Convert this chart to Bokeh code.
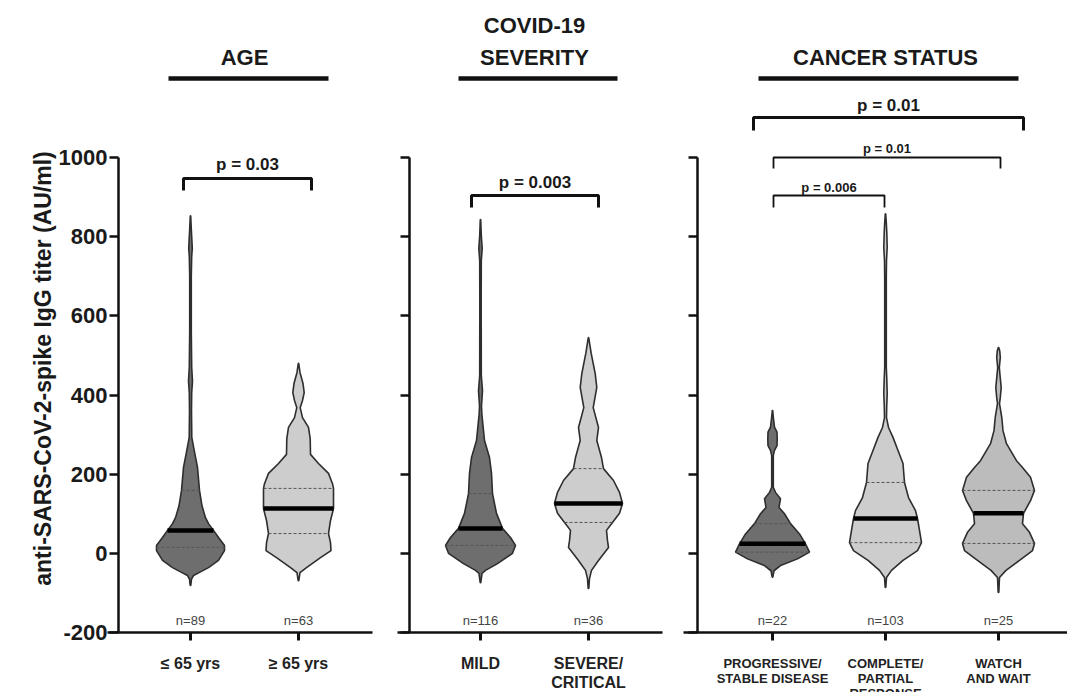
import numpy as np
from bokeh.plotting import figure
from bokeh.layouts import row
from bokeh.models import FixedTicker, LinearAxis, Range1d
from bokeh.core.properties import value
from bokeh.embed import file_html
from bokeh.resources import INLINE

# ---------------- data ----------------
Y_LABEL = "anti-SARS-CoV-2-spike IgG titer (AU/ml)"
Y_TICKS = [-200, 0, 200, 400, 600, 800, 1000]

AGE_TITLE = "AGE"
AGE_CATS = ["≤ 65 yrs", "≥ 65 yrs"]
AGE_N = [89, 63]
AGE_MEDIAN = [58, 113]
AGE_Q1 = [15, 50]
AGE_Q3 = [159, 164]
AGE_P = ["p = 0.03"]

SEV_TITLE = "COVID-19\nSEVERITY"
SEV_CATS = ["MILD", "SEVERE/\nCRITICAL"]
SEV_N = [116, 36]
SEV_MEDIAN = [63, 126]
SEV_Q1 = [20, 78]
SEV_Q3 = [151, 214]
SEV_P = ["p = 0.003"]

CAN_TITLE = "CANCER STATUS"
CAN_CATS = ["PROGRESSIVE/\nSTABLE DISEASE", "COMPLETE/\nPARTIAL\nRESPONSE", "WATCH\nAND WAIT"]
CAN_N = [22, 103, 25]
CAN_MEDIAN = [24, 88, 101]
CAN_Q1 = [3, 27, 25]
CAN_Q3 = [75, 179, 159]
CAN_P = ["p = 0.01", "p = 0.01", "p = 0.006"]

# violin outlines: titer level and relative half-width (density) at that level
LE65_Y = [853, 820, 790, 770, 750, 700, 560, 470, 435, 405, 360, 293, 260, 217, 159, 120, 90, 75, 58, 40, 20, 7, -18, -36, -48, -56, -65, -81]
LE65_W = [0.2, 0.8, 1.4, 1.8, 1.2, 0.8, 0.8, 1.2, 2.0, 1.2, 1.0, 1.3, 3.7, 7, 9, 11.5, 15, 18, 23, 28, 34, 34, 28, 18, 9, 3, 1, 0.3]
GE65_Y = [480, 457, 429, 406, 386, 368, 343, 318, 290, 250, 227, 202, 176, 164, 113, 83, 50, 27, 7, -11, -36, -49, -69]
GE65_W = [0.2, 1.5, 4.5, 5.7, 4, 1.7, 4, 10, 11.7, 12, 20, 30, 34, 35, 35, 32, 30, 32, 32.5, 22, 8, 1.5, 0.3]
MILD_Y = [843, 803, 770, 740, 639, 449, 411, 373, 353, 285, 242, 202, 151, 101, 63, 40, 20, 0, -26, -43, -51, -74]
MILD_W = [0.2, 0.8, 1.7, 0.8, 0.7, 0.8, 2, 1, 1.3, 4, 9, 11, 12, 16, 22, 30, 35, 32, 17, 5, 1.5, 0.3]
SEVERE_Y = [545, 505, 454, 419, 368, 318, 285, 242, 214, 184, 154, 126, 101, 78, 58, 32, 15, -18, -43, -64, -89]
SEVERE_W = [0.2, 2.7, 6.7, 8.3, 4.7, 10, 8.3, 13, 15, 25, 31, 34, 31, 24, 18, 19, 20, 10, 3, 1, 0.3]
PROG_Y = [361, 344, 319, 306, 289, 272, 260, 247, 167, 154, 138, 116, 100, 75, 49, 24, 3, -14, -31, -44, -60]
PROG_W = [0.2, 0.8, 2, 4.5, 4.7, 4.5, 2, 0.8, 0.8, 3, 8, 6.5, 12, 18, 27, 33, 37, 25, 8, 1.5, 0.3]
COMPLETE_Y = [858, 835, 810, 773, 740, 700, 600, 470, 440, 404, 370, 343, 318, 293, 260, 227, 179, 141, 108, 88, 58, 27, 7, -18, -43, -61, -86]
COMPLETE_W = [0.2, 0.8, 1.3, 1.7, 1.0, 0.8, 0.8, 0.8, 1.3, 1.7, 1.2, 1.0, 3, 7.5, 12.5, 17.5, 19, 23, 30, 32, 34, 36, 32, 17.5, 6, 1, 0.3]
WATCH_Y = [520, 512, 495, 469, 437, 419, 394, 378, 343, 310, 277, 234, 217, 192, 159, 133, 101, 75, 53, 25, 7, -18, -43, -61, -99]
WATCH_W = [0.2, 1.2, 1.8, 0.8, 2, 2.7, 1.8, 1.0, 3.3, 4.5, 8, 18, 24, 32, 36, 32, 25, 24, 31, 36, 34, 21, 7.5, 1, 0.3]

# ---------------- layout / style ----------------
FONT = "Liberation Sans"
H = 692
Y_MIN, Y_MAX = -200, 1000
YMIN_PX = 632               # pixel row of y = -200
Y1000_PX = 157              # pixel row of y = 1000
PPU_Y = (YMIN_PX - Y1000_PX) / (Y_MAX - Y_MIN)


def ypx(py):
    return Y_MAX - (py - Y1000_PX) / PPU_Y


DARK, LIGHT, MID = "#6e6e6e", "#cdcdcd", "#bcbcbc"


def make_panel(fig_left, width, unit, c1, yaxis_px, xax0_px, xax1_px, cats, label_size, label_lh,
               label_standoff, show_ylabels):
    x_start = 1 + (fig_left - c1) / unit
    x_end = x_start + width / unit
    p = figure(width=width, height=H, x_range=Range1d(x_start, x_end), y_range=Range1d(ypx(H), ypx(0)),
               x_axis_type=None, y_axis_type=None, output_backend="svg", toolbar_location=None,
               min_border_left=0, min_border_right=0, min_border_top=0, min_border_bottom=0)
    p.outline_line_color = None
    p.background_fill_color = "white"
    p.border_fill_color = "white"
    X = lambda px: 1 + (px - c1) / unit

    yax = LinearAxis(fixed_location=X(yaxis_px), bounds=(Y_MIN, Y_MAX), ticker=FixedTicker(ticks=Y_TICKS),
                     major_label_overrides={v: str(v) for v in Y_TICKS})
    yax.axis_line_width = 2.5
    yax.axis_line_color = "#111111"
    yax.major_tick_line_width = 2.5
    yax.major_tick_line_color = "#111111"
    yax.major_tick_out = 9
    yax.major_tick_in = 0
    yax.minor_tick_line_color = None
    yax.major_label_standoff = 2
    yax.major_label_text_font = FONT
    yax.major_label_text_font_style = "bold"
    yax.major_label_text_font_size = "22px"
    yax.major_label_text_color = "#1a1a1a" if show_ylabels else None
    p.add_layout(yax, "left")

    ticks = list(range(1, len(cats) + 1))
    xax = LinearAxis(fixed_location=Y_MIN, bounds=(X(xax0_px), min(X(xax1_px), x_end)),
                     ticker=FixedTicker(ticks=ticks),
                     major_label_overrides={t: c for t, c in zip(ticks, cats)})
    xax.axis_line_width = 2.5
    xax.axis_line_color = "#111111"
    xax.major_tick_line_width = 3
    xax.major_tick_line_color = "#111111"
    xax.major_tick_out = 8
    xax.major_tick_in = 0
    xax.minor_tick_line_color = None
    xax.major_label_standoff = label_standoff
    xax.major_label_text_font = FONT
    xax.major_label_text_font_style = "bold"
    xax.major_label_text_font_size = label_size
    xax.major_label_text_line_height = label_lh
    xax.major_label_text_color = "#222222"
    p.add_layout(xax, "below")
    return p, X


def draw_violin(p, c, ys, ws, unit, color, med, q1, q3):
    ys = np.asarray(ys, float)
    hw = np.asarray(ws, float) / unit
    xs = np.concatenate([c + hw, (c - hw)[::-1]])
    yy = np.concatenate([ys, ys[::-1]])
    p.patch(xs, yy, fill_color=color, line_color="#2e2e2e", line_width=1.6)
    order = np.argsort(ys)
    half = lambda y: float(np.interp(y, ys[order], hw[order]))
    for q in (q1, q3):
        h = half(q)
        p.segment([c - h], [q], [c + h], [q], line_color="#555555", line_width=1, line_dash="3 2")
    h = half(med)
    p.segment([c - h], [med], [c + h], [med], line_color="black", line_width=4.5)


def n_labels(p, n):
    p.text(x=list(range(1, len(n) + 1)), y=[ypx(620)] * len(n), text=[f"n={v}" for v in n],
           text_font=value(FONT), text_font_size="13px", text_color="#444444",
           text_align="center", text_baseline="middle")


def title(p, X, txt, x0_px, x1_px, xc, yc_px):
    p.text(x=[xc], y=[ypx(yc_px)], text=[txt], text_font=value(FONT), text_font_style="bold",
           text_font_size="22px", text_color="#1a1a1a", text_align="center", text_baseline="middle",
           text_line_height=1.3)
    p.segment([X(x0_px)], [ypx(78)], [X(x1_px)], [ypx(78)], line_color="#111111", line_width=4.5)


def bracket(p, X, x0_px, x1_px, y_px, drop_px, label, text_px, size, lw):
    y = ypx(y_px)
    y2 = ypx(y_px + drop_px)
    p.line([X(x0_px), X(x0_px), X(x1_px), X(x1_px)], [y2, y, y, y2], line_color="#111111", line_width=lw)
    p.text(x=[(X(x0_px) + X(x1_px)) / 2], y=[ypx(text_px)], text=[label], text_font=value(FONT),
           text_font_style="bold", text_font_size=size, text_color="#1a1a1a",
           text_align="center", text_baseline="middle")


# ---- panel 1: AGE ----
p1, X1 = make_panel(0, 385, 108, 190, 118, 107, 372, AGE_CATS, "16px", 1.15, 14, True)
p1.text(x=[X1(42)], y=[ypx(368)], text=[Y_LABEL], angle=np.pi / 2, text_font=value(FONT),
        text_font_style="bold", text_font_size="23px", text_color="#1a1a1a",
        text_align="center", text_baseline="middle")
for i, (ys, ws, col) in enumerate([(LE65_Y, LE65_W, DARK), (GE65_Y, GE65_W, LIGHT)]):
    draw_violin(p1, i + 1, ys, ws, 108, col, AGE_MEDIAN[i], AGE_Q1[i], AGE_Q3[i])
n_labels(p1, AGE_N)
title(p1, X1, AGE_TITLE, 168, 328, 1.5, 57)
bracket(p1, X1, 183, 311, 178, 12, AGE_P[0], 164, "17px", 3)

# ---- panel 2: COVID-19 SEVERITY ----
p2, X2 = make_panel(385, 285, 108, 480, 409, 397, 662, SEV_CATS, "16px", 1.15, 14, False)
for i, (ys, ws, col) in enumerate([(MILD_Y, MILD_W, DARK), (SEVERE_Y, SEVERE_W, LIGHT)]):
    draw_violin(p2, i + 1, ys, ws, 108, col, SEV_MEDIAN[i], SEV_Q1[i], SEV_Q3[i])
n_labels(p2, SEV_N)
title(p2, X2, SEV_TITLE, 458, 617, 1.5, 41)
bracket(p2, X2, 471, 598, 195, 12, SEV_P[0], 182, "17px", 3)

# ---- panel 3: CANCER STATUS ----
p3, X3 = make_panel(670, 397, 113, 772, 697, 683, 1067, CAN_CATS, "13px", 1.0, 15, False)
for i, (ys, ws, col) in enumerate([(PROG_Y, PROG_W, DARK), (COMPLETE_Y, COMPLETE_W, LIGHT), (WATCH_Y, WATCH_W, MID)]):
    draw_violin(p3, i + 1, ys, ws, 113, col, CAN_MEDIAN[i], CAN_Q1[i], CAN_Q3[i])
n_labels(p3, CAN_N)
title(p3, X3, CAN_TITLE, 758, 1018, 2, 57)
bracket(p3, X3, 753, 1023, 117, 13, CAN_P[0], 105, "17px", 3)
bracket(p3, X3, 773, 1000, 157, 11, CAN_P[1], 148, "13px", 1.8)
bracket(p3, X3, 773, 884, 195, 12, CAN_P[2], 187, "13px", 1.8)

layout = row(p1, p2, p3)
open("out.html", "w").write(file_html(layout, INLINE))
